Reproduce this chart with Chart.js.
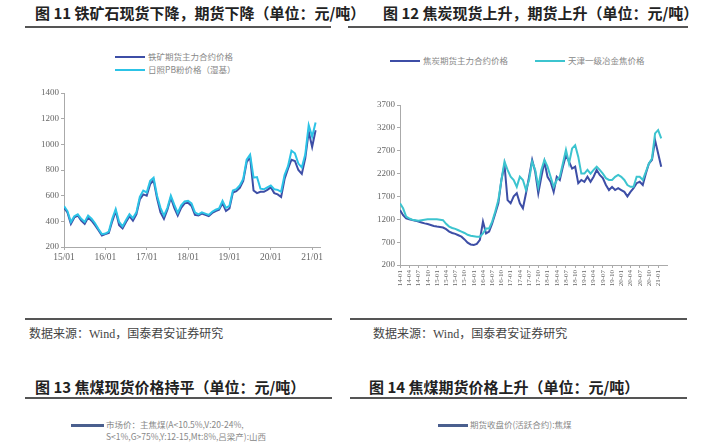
<!DOCTYPE html>
<html>
<head>
<meta charset="utf-8">
<script src="https://cdn.jsdelivr.net/npm/chart.js@4.4.1/dist/chart.umd.min.js"></script>
<style>
  body { margin: 0; width: 720px; height: 448px; background: #fff; overflow: hidden; position: relative;
         font-family: "Noto Sans CJK SC", sans-serif; }
  .t { position: absolute; white-space: nowrap; }
  .title { font-size: 15px; font-weight: bold; color: #222; line-height: 18px; }
  .src { font-size: 12px; color: #444; font-family: "Liberation Serif", "Noto Sans CJK SC", serif; }
  .leg { font-size: 8.5px; color: #888; line-height: 11px; }
  .rule { position: absolute; height: 2px; background: #555; }
  .sw { position: absolute; height: 2px; }
  canvas { position: absolute; }
</style>
</head>
<body>
<div class="t title" style="left:35px;top:4px">图 11 铁矿石现货下降，期货下降（单位：元/吨）</div>
<div class="t title" style="left:383px;top:4px">图 12 焦炭现货上升，期货上升（单位：元/吨）</div>
<div class="rule" style="left:25px;top:26px;width:306px"></div>
<div class="rule" style="left:348px;top:26px;width:340px"></div>

<div class="sw" style="left:115px;top:56px;width:30px;background:#3d4ea6"></div>
<div class="t leg" style="left:148px;top:51px">铁矿期货主力合约价格</div>
<div class="sw" style="left:115px;top:69px;width:30px;background:#2cc3e6"></div>
<div class="t leg" style="left:148px;top:64px">日照PB粉价格（湿基）</div>

<div class="sw" style="left:390px;top:60px;width:30px;background:#3d4ea6"></div>
<div class="t leg" style="left:423px;top:55px">焦炭期货主力合约价格</div>
<div class="sw" style="left:535px;top:60px;width:30px;background:#3cc4cf"></div>
<div class="t leg" style="left:568px;top:55px">天津一级冶金焦价格</div>

<canvas id="c1"></canvas>
<canvas id="c2"></canvas>

<div class="rule" style="left:25px;top:318px;width:307px"></div>
<div class="rule" style="left:350px;top:318px;width:337px"></div>
<div class="t src" style="left:29px;top:324px">数据来源：Wind，国泰君安证券研究</div>
<div class="t src" style="left:373px;top:324px">数据来源：Wind，国泰君安证券研究</div>

<div class="t title" style="left:35px;top:378px">图 13 焦煤现货价格持平（单位：元/吨）</div>
<div class="t title" style="left:369px;top:378px">图 14 焦煤期货价格上升（单位：元/吨）</div>
<div class="rule" style="left:25px;top:397px;width:307px"></div>
<div class="rule" style="left:350px;top:397px;width:337px"></div>

<div class="sw" style="left:71px;top:424px;width:33px;height:3px;background:#4a5f8e"></div>
<div class="t leg" style="left:106px;top:419px">市场价：主焦煤(A&lt;10.5%,V:20-24%,</div>
<div class="t leg" style="left:106px;top:431px">S&lt;1%,G&gt;75%,Y:12-15,Mt:8%,吕梁产):山西</div>
<div class="sw" style="left:438px;top:424px;width:30px;height:3px;background:#4a5f8e"></div>
<div class="t leg" style="left:470px;top:419px">期货收盘价(活跃合约):焦煤</div>

<script>
// ---- 图11 铁矿石 (monthly, 2015-01 .. 2021-02)
const ironStart = "2015-01";
const ironFutures = [
  505, 470, 380, 430, 445, 405, 380, 430, 405, 370, 330, 290,
  300, 310, 400, 480, 370, 345, 395, 440, 405, 455, 570, 610,
  600, 690, 720, 580, 470, 420, 490, 585, 505, 445, 505, 540,
  545, 520, 450, 445, 460, 450, 440, 465, 480, 490, 540, 480,
  500, 625, 635, 660, 715, 860, 900, 640, 620, 630, 630, 645,
  665, 620, 610, 590, 730, 810, 880, 870, 800, 770, 890, 1100,
  980, 1110
];
const ironSpot = [
  520, 480, 395, 440, 455, 420, 395, 445, 420, 385, 340, 300,
  305, 320, 420, 495, 395, 360, 410, 455, 425, 470, 590, 640,
  625, 715, 740, 600, 505, 445, 505, 600, 530, 465, 525, 555,
  560, 540, 470, 455, 470, 460, 450, 475, 490, 500, 560, 505,
  520, 640, 650, 680, 730, 880, 920, 740, 745, 655, 650, 665,
  680, 650, 645, 630, 760, 830, 950, 930, 850, 820, 920, 1150,
  1060, 1170
];
const ironTicks = ["15/01", "16/01", "17/01", "18/01", "19/01", "20/01", "21/01"];

// ---- 图12 焦炭 (monthly, 2014-01 .. 2021-02)
const cokeStart = "2014-01";
const cokeFutures = [
  1400, 1290, 1220, 1200, 1185, 1170, 1150, 1130, 1110, 1095, 1075, 1055,
  1040, 1030, 1020, 985, 930, 900, 880, 850, 820, 760, 690, 650,
  640, 660, 750, 1150, 890, 930, 1110, 1330, 1550, 2060, 2390, 1620,
  1550, 1700, 1770, 1550, 1440, 1770, 2130, 2500, 2240, 1770, 2130, 2460,
  2130, 2020, 1800, 2130, 2060, 2350, 2600, 2460, 2310, 2350, 1990, 2060,
  2020, 2130, 2020, 2130, 2280, 2170, 2100, 1950, 1840, 1910, 1840, 1880,
  1840, 1800, 1700, 1800, 1880, 1990, 2020, 1950, 2200, 2420, 2500, 2930,
  2640, 2350
];
const cokeSpot = [
  1550, 1440, 1260, 1220, 1190, 1180, 1170, 1180, 1190, 1200, 1200, 1200,
  1200, 1190, 1180, 1100, 1040, 1010, 990, 960, 930, 900, 860, 840,
  830, 820, 820, 890, 1000, 1000, 1150, 1370, 1620, 2060, 2460, 2280,
  2130, 2060, 1910, 2130, 2060, 1840, 2060, 2460, 2280, 1910, 2280, 2500,
  2350, 2130, 1910, 2060, 2130, 2420, 2720, 2420, 2750, 2820, 2570, 2200,
  2200, 2280, 2200, 2280, 2350, 2280, 2200, 2100, 2060, 2060, 2130, 2170,
  2130, 2060, 1950, 1910, 1910, 2130, 2130, 2060, 2240, 2420, 2530, 3080,
  3150, 2970
];
const cokeTicks = [];
for (let y = 14; y <= 21; y++) {
  for (const m of ["01", "04", "07", "10"]) {
    if (y === 21 && m !== "01") break;
    cokeTicks.push(y + "-" + m);
  }
}

function toPoints(start, values) {
  const [y0, m0] = start.split("-").map(Number);
  return values.map((v, i) => ({ x: y0 + (m0 - 1 + i) / 12, y: v }));
}
function tickPos(label, sep) {
  const [y, m] = label.split(sep).map(Number);
  return 2000 + y + (m - 1) / 12;
}

const axisColor = "#aaa";
const tickFont = { family: "Liberation Serif", size: 9 };

function makeChart(id, opt) {
  const cv = document.getElementById(id);
  cv.style.left = opt.left + "px";
  cv.style.top = opt.top + "px";
  cv.width = opt.width;
  cv.height = opt.height;
  return new Chart(cv, {
    type: "line",
    data: {
      datasets: opt.series.map(s => ({
        data: s.data,
        borderColor: s.color,
        borderWidth: 2,
        pointRadius: 0,
        tension: 0,
        fill: false
      }))
    },
    options: {
      responsive: false,
      animation: false,
      layout: { autoPadding: false, padding: { top: opt.padTop, right: opt.padRight, left: 0, bottom: 0 } },
      plugins: { legend: { display: false }, tooltip: { enabled: false } },
      scales: {
        x: {
          type: "linear",
          min: opt.xMin,
          max: opt.xMax,
          afterFit: s => { s.height = opt.xAxisH; },
          afterBuildTicks: s => { s.ticks = opt.ticks.map(t => ({ value: tickPos(t, opt.sep), label: t })); },
          grid: { drawOnChartArea: false, color: axisColor, tickLength: 3 },
          border: { color: axisColor },
          ticks: {
            autoSkip: false,
            color: "#666",
            font: opt.xFont,
            padding: 2,
            minRotation: opt.rot,
            maxRotation: opt.rot,
            callback: (v, i) => opt.ticks[i]
          }
        },
        y: {
          min: opt.yMin,
          max: opt.yMax,
          afterFit: s => { s.width = opt.yAxisW; },
          grid: { drawOnChartArea: false, color: axisColor, tickLength: 3 },
          border: { color: axisColor },
          ticks: { stepSize: opt.yStep, color: "#666", font: tickFont, padding: 2, callback: v => String(v) }
        }
      }
    }
  });
}

makeChart("c1", {
  left: 20, top: 85, width: 310, height: 187,
  padTop: 8, padRight: 10, xAxisH: 25, yAxisW: 44,
  xMin: 2015, xMax: 2021.19, yMin: 200, yMax: 1400, yStep: 200,
  ticks: ironTicks, sep: "/", rot: 0, xFont: { family: "Liberation Serif", size: 9.5 },
  series: [
    { data: toPoints(ironStart, ironSpot), color: "#2cc3e6" },
    { data: toPoints(ironStart, ironFutures), color: "#3d4ea6" }
  ]
});

makeChart("c2", {
  left: 360, top: 95, width: 317, height: 210,
  padTop: 10, padRight: 10, xAxisH: 40, yAxisW: 40,
  xMin: 2014, xMax: 2021.24, yMin: 200, yMax: 3700, yStep: 500,
  ticks: cokeTicks, sep: "-", rot: 90, xFont: { family: "Liberation Serif", size: 7 },
  series: [
    { data: toPoints(cokeStart, cokeSpot), color: "#3cc4cf" },
    { data: toPoints(cokeStart, cokeFutures), color: "#3d4ea6" }
  ]
});
</script>
</body>
</html>
